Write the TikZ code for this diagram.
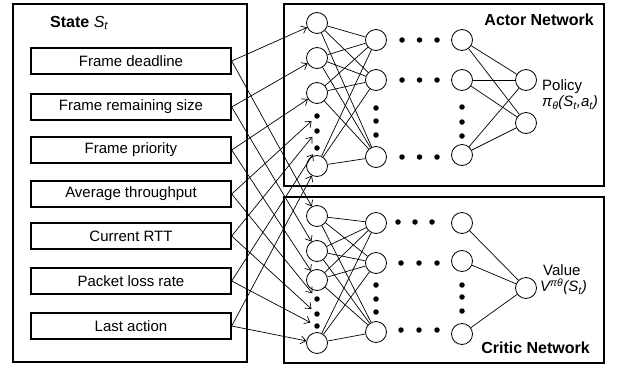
\documentclass[tikz,border=0pt]{standalone}
\usepackage{fontspec}
\setmainfont{Liberation Sans}
\usetikzlibrary{arrows.meta}
\begin{document}
\begin{tikzpicture}[x=1pt,y=-1pt,
  frame/.style={draw, line width=1.6pt},
  inbox/.style={draw, line width=1.4pt, minimum width=200pt, minimum height=26pt, inner sep=0pt, font=\fontsize{15}{18}\selectfont},
  neuron/.style={draw, circle, minimum size=21pt, inner sep=0pt, line width=0.8pt},
  dotn/.style={circle, fill, minimum size=5.5pt, inner sep=0pt},
  link/.style={line width=0.7pt},
  feed/.style={line width=0.7pt, -{Straight Barb[length=5pt,width=8pt]}},
  feeddot/.style={feed, shorten >=4.5pt},
  lbl/.style={font=\fontsize{15}{17}\selectfont, inner sep=0pt, align=left},
  title/.style={font=\bfseries\fontsize{16}{18}\selectfont, inner sep=0pt}
]
\useasboundingbox (0,0) rectangle (619,367);
% frames
\draw[frame] (13,4) rectangle (247,362);
\draw[frame] (284,4) rectangle (604,186);
\draw[frame] (284,197) rectangle (604,363);
\node[title, anchor=west] (st) at (50,23) {State \textit{\mdseries S\textsubscript{t}}};
\node[title, anchor=east] (an) at (594,20) {Actor Network};
\node[title, anchor=east] (cn) at (590,348) {Critic Network};
% input boxes
\node[inbox] (b1) at (131,61) {Frame deadline};
\node[inbox] (b2) at (131,107) {Frame remaining size};
\node[inbox] (b3) at (131,150) {Frame priority};
\node[inbox] (b4) at (131,194) {Average throughput};
\node[inbox] (b5) at (131,236) {Current RTT};
\node[inbox] (b6) at (131,281) {Packet loss rate};
\node[inbox] (b7) at (131,326) {Last action};
% actor network
\node[neuron] (a11) at (317,23) {};
\node[neuron] (a12) at (317,58) {};
\node[neuron] (a13) at (317,93) {};
\node[neuron] (a14) at (317,166) {};
\node[dotn] (ad1) at (317,116) {};
\node[dotn] (ad2) at (317,131) {};
\node[dotn] (ad3) at (317,148) {};
\node[neuron] (a21) at (376,40) {};
\node[neuron] (a22) at (376,80) {};
\node[neuron] (a23) at (376,157) {};
\node[dotn] (av1) at (376,108) {};
\node[dotn] (av2) at (376,121) {};
\node[dotn] (av3) at (376,135) {};
\foreach \r/\y in {1/40,2/80,3/157}{
  \node[dotn] (ah\r a) at (402,\y) {};
  \node[dotn] (ah\r b) at (419.5,\y) {};
  \node[dotn] (ah\r c) at (437,\y) {};
}
\node[neuron] (a31) at (462,40) {};
\node[neuron] (a32) at (462,80) {};
\node[neuron] (a33) at (462,155) {};
\node[dotn] (aw1) at (462,107) {};
\node[dotn] (aw2) at (462,122) {};
\node[dotn] (aw3) at (462,136) {};
\node[neuron] (ao1) at (526,80) {};
\node[neuron] (ao2) at (526,123) {};
\node[lbl, anchor=west] (pol) at (542,95) {Policy\\[-1pt]\textit{π\textsubscript{θ}(S\textsubscript{t},a\textsubscript{t})}};
% critic network
\node[neuron] (c11) at (317,216) {};
\node[neuron] (c12) at (317,251) {};
\node[neuron] (c13) at (317,280) {};
\node[neuron] (c14) at (317,343) {};
\node[dotn] (cd1) at (317,299) {};
\node[dotn] (cd2) at (317,314) {};
\node[dotn] (cd3) at (317,326) {};
\node[neuron] (c21) at (376,223) {};
\node[neuron] (c22) at (376,263) {};
\node[neuron] (c23) at (376,332) {};
\node[dotn] (cv1) at (376,285) {};
\node[dotn] (cv2) at (376,299) {};
\node[dotn] (cv3) at (376,312) {};
\node[dotn] (ch1a) at (398,222) {};
\node[dotn] (ch1b) at (415,222) {};
\node[dotn] (ch1c) at (432,222) {};
\foreach \r/\y in {2/263,3/330}{
  \node[dotn] (ch\r a) at (401,\y) {};
  \node[dotn] (ch\r b) at (419,\y) {};
  \node[dotn] (ch\r c) at (437,\y) {};
}
\node[neuron] (c31) at (462,223) {};
\node[neuron] (c32) at (462,261) {};
\node[neuron] (c33) at (462,334) {};
\node[dotn] (cw1) at (462,285) {};
\node[dotn] (cw2) at (462,297) {};
\node[dotn] (cw3) at (462,311) {};
\node[neuron] (co1) at (526,288) {};
\node[lbl, anchor=west] (val) at (540,280) {\hspace{3pt}Value\\[-1pt]\textit{V\textsuperscript{πθ}(S\textsubscript{t})}};
% hidden links
\foreach \i in {1,2,3,4}{
  \foreach \j in {1,2,3}{
    \draw[link] (a1\i) -- (a2\j);
    \draw[link] (c1\i) -- (c2\j);
  }
}
\foreach \i in {1,2,3}{
  \draw[link] (a3\i) -- (ao1);
  \draw[link] (a3\i) -- (ao2);
  \draw[link] (c3\i) -- (co1);
}
% input feeds
\draw[feed] (b1.east) -- (a11);
\draw[feed] (b2.east) -- (a12);
\draw[feed] (b3.east) -- (a13);
\draw[feeddot] (b4.east) -- (ad1);
\draw[feeddot] (b5.east) -- (ad2);
\draw[feeddot] (b6.east) -- (ad3);
\draw[feed] (b7.east) -- (a14);
\draw[feed] (b1.east) -- (c11);
\draw[feed] (b2.east) -- (c12);
\draw[feed] (b3.east) -- (c13);
\draw[feeddot] (b4.east) -- (cd1);
\draw[feeddot] (b5.east) -- (cd2);
\draw[feeddot] (b6.east) -- (cd3);
\draw[feed] (b7.east) -- (c14);
\end{tikzpicture}
\end{document}
